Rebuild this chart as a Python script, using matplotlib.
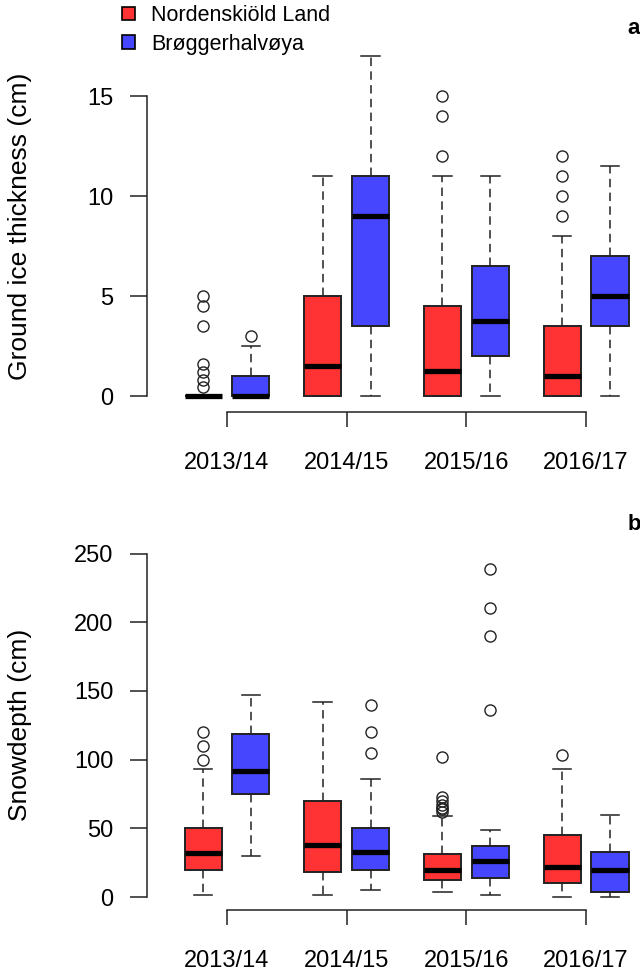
import matplotlib
matplotlib.use('Agg')
import matplotlib.pyplot as plt
from matplotlib.patches import Patch

plt.rcParams['font.family'] = ['Liberation Sans', 'DejaVu Sans']

seasons = ['2013/14', '2014/15', '2015/16', '2016/17']
sites = ['Nordenskiöld Land', 'Brøggerhalvøya']
site_colors = ['#FF3333', '#4646FF']

# ground ice thickness (cm), box statistics per season
ice_nl_med = [0, 1.5, 1.25, 1.0]
ice_nl_q1 = [0, 0, 0, 0]
ice_nl_q3 = [0, 5, 4.5, 3.5]
ice_nl_lo = [0, 0, 0, 0]
ice_nl_hi = [0, 11, 11, 8]
ice_nl_out = [[5, 4.5, 3.5, 1.6, 1.2, 0.8, 0.45], [], [15, 14, 12], [12, 11, 10, 9]]

ice_br_med = [0, 9, 3.75, 5]
ice_br_q1 = [0, 3.5, 2, 3.5]
ice_br_q3 = [1, 11, 6.5, 7]
ice_br_lo = [0, 0, 0, 0]
ice_br_hi = [2.5, 17, 11, 11.5]
ice_br_out = [[3], [], [], []]

# snow depth (cm)
snow_nl_med = [32, 38, 20, 22]
snow_nl_q1 = [20, 18, 12.5, 10]
snow_nl_q3 = [50, 70, 31, 45]
snow_nl_lo = [1.5, 1.5, 4, 0]
snow_nl_hi = [93, 142, 59, 93]
snow_nl_out = [[100, 110, 120], [], [62, 64, 65, 67, 70, 73, 102], [103]]

snow_br_med = [92, 33, 26, 20]
snow_br_q1 = [75, 20, 14, 4]
snow_br_q3 = [119, 50, 37, 33]
snow_br_lo = [30, 5, 1.5, 0]
snow_br_hi = [147, 86, 49, 60]
snow_br_out = [[], [105, 120, 140], [136, 190, 210, 239], []]


def stats(med, q1, q3, lo, hi, out):
    return [dict(med=med[i], q1=q1[i], q3=q3[i], whislo=lo[i], whishi=hi[i],
                 fliers=out[i]) for i in range(len(med))]


def draw_boxes(ax, st, offset, color):
    pos = [g + offset for g in range(len(st))]
    w = 0.31
    ax.bxp(st, positions=pos, widths=w, capwidths=w / 2, patch_artist=True,
           manage_ticks=False,
           boxprops=dict(facecolor=color, edgecolor='#222222', linewidth=1.4),
           medianprops=dict(color='black', linewidth=3.8, solid_capstyle='butt'),
           whiskerprops=dict(color='#222222', linewidth=1.1, linestyle=(0, (5.5, 3.5))),
           capprops=dict(color='#222222', linewidth=1.1),
           flierprops=dict(marker='o', markerfacecolor='none', markeredgecolor='#222222',
                           markersize=8, markeredgewidth=1.0))


fig = plt.figure(figsize=(6.4, 9.72), dpi=100)
W, H = 640.0, 972.0


def make_axes(top_px, bottom_px):
    return fig.add_axes([147 / W, 1 - bottom_px / H, (640 - 147) / W, (bottom_px - top_px) / H])


ax1 = make_axes(40, 412)
ax2 = make_axes(553.5, 910)

draw_boxes(ax1, stats(ice_nl_med, ice_nl_q1, ice_nl_q3, ice_nl_lo, ice_nl_hi, ice_nl_out), -0.2, site_colors[0])
draw_boxes(ax1, stats(ice_br_med, ice_br_q1, ice_br_q3, ice_br_lo, ice_br_hi, ice_br_out), 0.2, site_colors[1])
draw_boxes(ax2, stats(snow_nl_med, snow_nl_q1, snow_nl_q3, snow_nl_lo, snow_nl_hi, snow_nl_out), -0.2, site_colors[0])
draw_boxes(ax2, stats(snow_br_med, snow_br_q1, snow_br_q3, snow_br_lo, snow_br_hi, snow_br_out), 0.2, site_colors[1])

ax1.set_ylim(-0.775, 17.825)
ax1.set_yticks([0, 5, 10, 15])
ax2.set_ylim(-9.45, 249.6)
ax2.set_yticks([0, 50, 100, 150, 200, 250])

for ax in (ax1, ax2):
    ax.set_xlim(-0.6685, 3.451)
    ax.set_xticks(range(len(seasons)))
    ax.set_xticklabels(seasons)
    ax.spines['top'].set_visible(False)
    ax.spines['right'].set_visible(False)
    ax.spines['bottom'].set_bounds(0, 3)
    yt = ax.get_yticks()
    ax.spines['left'].set_bounds(yt[0], yt[-1])
    for s in ('left', 'bottom'):
        ax.spines[s].set_linewidth(1.1)
        ax.spines[s].set_color('#222222')
    ax.tick_params(axis='y', length=12, width=1.1, pad=12, labelsize=17, color='#222222')
    ax.tick_params(axis='x', length=11, width=1.1, pad=18, labelsize=17, color='#222222')
    ax.set_facecolor('none')

fig.text(20 / W, 1 - 226 / H, 'Ground ice thickness (cm)', rotation=90,
         ha='center', va='center', fontsize=19)
fig.text(20 / W, 1 - 725 / H, 'Snowdepth (cm)', rotation=90,
         ha='center', va='center', fontsize=19)

fig.text(634 / W, 1 - 28 / H, 'a', ha='center', va='center', fontsize=16, fontweight='bold')
fig.text(634 / W, 1 - 525 / H, 'b', ha='center', va='center', fontsize=16, fontweight='bold')

handles = [Patch(facecolor=c, edgecolor='black', linewidth=1.2) for c in site_colors]
fig.legend(handles, sites, loc='upper left', bbox_to_anchor=(122 / W, 1 - 5 / H),
           bbox_transform=fig.transFigure, frameon=False, fontsize=15.5,
           handlelength=0.6, handleheight=0.6, handletextpad=0.75,
           labelspacing=0.35, borderpad=0, borderaxespad=0)

fig.savefig('out.png', dpi=100)
